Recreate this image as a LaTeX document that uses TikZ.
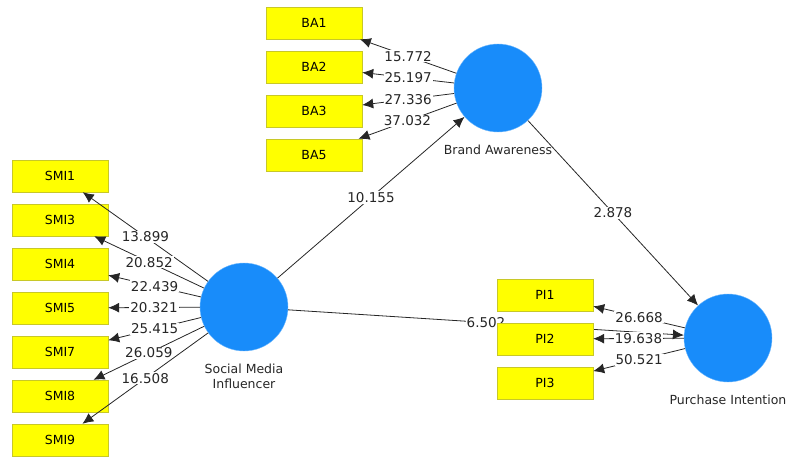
\documentclass[tikz,border=0pt]{standalone}
\usepackage{fontspec}
\setmainfont{DejaVu Sans}
\usepackage{xcolor}
\usetikzlibrary{arrows.meta,positioning}
\definecolor{latentblue}{RGB}{24,140,250}
\definecolor{itemyellow}{RGB}{255,255,0}
\definecolor{itemrim}{RGB}{200,200,40}
\tikzset{indicator/.style={draw=itemrim,fill=itemyellow,rectangle,
                           minimum width=96pt,minimum height=32pt,inner sep=0pt,
                           font=\fontsize{12.5}{14}\selectfont}}
\tikzset{construct/.style={draw=latentblue!60,fill=latentblue,circle,
                           minimum size=88pt,inner sep=0pt}}

\begin{document}
\begin{tikzpicture}[x=1pt,y=-1pt,>={Latex[length=11pt,width=10pt]},
    % styles for clarity
    weight/.style  ={fill=white, inner sep=1pt, text=black!85, font=\fontsize{13.5}{15}\selectfont},
    caption/.style ={align=center, inner sep=1pt, text=black!85, font=\fontsize{12.5}{15}\selectfont},
    path/.style    ={draw=black!85, line width=0.8pt},
    node distance = 12pt
  ]
    \useasboundingbox (0,0) rectangle (792,457);

    % latent constructs
    \node[construct](smi) at (244,307) {};
    \node[construct](ba)  at (498,88)  {};
    \node[construct](pi)  at (728,338) {};
    \node[caption, below=of smi](smicap) {Social Media\\Influencer};
    \node[caption, below=of ba](bacap)   {Brand Awareness};
    \node[caption, below=of pi](picap)   {Purchase Intention};

    % inner model
    \draw[path,->] (smi) -- node[weight]{10.155} (ba);
    \draw[path,->] (ba)  -- node[weight]{2.878}  (pi);
    \draw[path,->] (smi) -- node[weight]{6.502}  (pi);

    % indicators
    \node[indicator](smi1) at (60,176) {SMI1};
    \node[indicator](smi3) at (60,220) {SMI3};
    \node[indicator](smi4) at (60,264) {SMI4};
    \node[indicator](smi5) at (60,308) {SMI5};
    \node[indicator](smi7) at (60,352) {SMI7};
    \node[indicator](smi8) at (60,396) {SMI8};
    \node[indicator](smi9) at (60,440) {SMI9};
    \node[indicator](ba1) at (314,23)  {BA1};
    \node[indicator](ba2) at (314,67)  {BA2};
    \node[indicator](ba3) at (314,111) {BA3};
    \node[indicator](ba5) at (314,155) {BA5};
    \node[indicator](pi1) at (545,295) {PI1};
    \node[indicator](pi2) at (545,339) {PI2};
    \node[indicator](pi3) at (545,383) {PI3};

    % outer loadings
    \draw[path,->] (smi) -- node[weight]{13.899} (smi1);
    \draw[path,->] (smi) -- node[weight]{20.852} (smi3);
    \draw[path,->] (smi) -- node[weight]{22.439} (smi4);
    \draw[path,->] (smi) -- node[weight]{20.321} (smi5);
    \draw[path,->] (smi) -- node[weight]{25.415} (smi7);
    \draw[path,->] (smi) -- node[weight]{26.059} (smi8);
    \draw[path,->] (smi) -- node[weight]{16.508} (smi9);
    \draw[path,->] (ba) -- node[weight]{15.772} (ba1);
    \draw[path,->] (ba) -- node[weight]{25.197} (ba2);
    \draw[path,->] (ba) -- node[weight]{27.336} (ba3);
    \draw[path,->] (ba) -- node[weight]{37.032} (ba5);
    \draw[path,->] (pi) -- node[weight]{26.668} (pi1);
    \draw[path,->] (pi) -- node[weight]{19.638} (pi2);
    \draw[path,->] (pi) -- node[weight]{50.521} (pi3);
  \end{tikzpicture}
\end{document}
